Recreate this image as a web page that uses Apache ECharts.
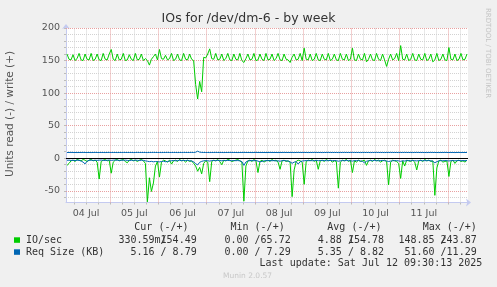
<!DOCTYPE html>
<html><head><meta charset="utf-8">
<script src="https://cdn.jsdelivr.net/npm/echarts@6/dist/echarts.min.js"></script>
<style>html,body{margin:0;padding:0;background:#f0f0f0;}#c{width:497px;height:287px;}</style>
</head><body><div id="c"></div>
<script>
// time axis: hours since 04 Jul 00:00
const startHour = 2;
const endHour = 202;
const dayLabels = ['04 Jul','05 Jul','06 Jul','07 Jul','08 Jul','09 Jul','10 Jul','11 Jul'];
const yTickLabels = [-50, 0, 50, 100, 150, 200];
const yMin = -68, yMax = 200;

const ioWrite = [
160,152,151,159,150,153,161,151,150,160,
152,151,161,150,152,160,151,150,161,152,
151,160,167,152,150,160,151,152,161,150,
151,159,152,150,161,151,152,160,150,153,
150,143,152,156,160,151,167,153,152,158,
151,153,161,150,152,160,151,150,161,152,
151,160,152,150,113,91,118,102,155,154,
160,168,153,152,161,151,152,160,150,153,
161,151,150,160,152,151,161,150,147,153,
160,151,152,161,150,151,160,152,150,161,
151,152,160,150,153,161,151,150,160,152,
151,147,155,160,151,152,161,150,169,152,
151,160,150,152,161,151,150,160,152,151,
161,150,152,160,151,150,161,152,151,160,
150,152,169,151,150,160,152,151,161,148,
152,160,151,150,161,152,150,160,151,141,
152,160,151,153,161,150,173,152,151,160,
150,152,161,151,150,160,152,151,161,150,
152,160,148,151,161,150,152,160,151,150,
170,152,151,160,150,152,161,151,152,160
];
const ioRead = [
-11,-8,-4,-3,-5,-2,-3,-4,-2,-3,
-5,-3,-2,-4,-3,-6,-32,-5,-3,-2,
-4,-3,-23,-6,-3,-2,-4,-3,-2,-5,
-7,-3,-2,-4,-3,-5,-3,-2,-4,-8,
-67,-30,-51,-38,-12,-5,-29,-6,-3,-4,
-6,-3,-9,-4,-3,-5,-2,-4,-3,-6,
-3,-5,-4,-8,-12,-20,-14,-24,-8,-4,
-6,-36,-5,-3,-4,-2,-5,-10,-3,-4,
-2,-3,-5,-4,-3,-2,-4,-6,-66,-12,
-4,-3,-5,-2,-4,-22,-5,-3,-6,-4,
-3,-5,-2,-4,-3,-6,-17,-4,-3,-5,
-4,-6,-59,-18,-5,-3,-4,-6,-40,-5,
-3,-4,-2,-5,-3,-17,-4,-3,-5,-2,
-4,-3,-6,-4,-5,-46,-6,-3,-4,-2,
-5,-3,-22,-4,-6,-3,-5,-4,-3,-11,
-4,-3,-5,-2,-4,-3,-6,-4,-3,-5,
-41,-6,-3,-4,-5,-8,-31,-4,-12,-3,
-4,-5,-3,-6,-18,-4,-3,-5,-2,-4,
-3,-5,-4,-57,-15,-4,-3,-6,-5,-4,
-28,-5,-3,-8,-4,-3,-5,-4,-6,-3
];
const reqWrite = [
8.8,8.8,8.9,8.8,8.8,8.7,8.8,8.8,8.9,8.8,
8.8,8.8,8.7,8.8,8.9,8.8,8.8,8.8,8.8,8.7,
8.8,8.9,8.8,8.8,8.8,8.7,8.8,8.8,8.9,8.8,
8.8,8.8,8.8,8.7,8.8,8.9,8.8,8.8,8.8,8.8,
8.7,8.8,8.8,8.9,8.8,8.8,8.8,8.7,8.8,8.8,
8.9,8.8,8.8,8.8,8.8,8.7,8.8,8.8,8.9,8.8,
8.8,8.8,8.9,8.8,9.2,10.8,9.3,8.9,8.8,8.8,
8.8,8.7,8.8,8.8,8.9,8.8,8.8,8.8,8.7,8.8,
8.8,8.9,8.8,8.8,8.8,8.7,8.8,8.8,8.9,8.8,
8.8,8.8,8.7,8.8,8.9,8.8,8.8,8.8,8.8,8.7,
8.8,8.9,8.8,8.8,8.8,8.7,8.8,8.8,8.9,8.8,
8.8,8.8,8.8,8.7,8.8,8.9,8.8,8.8,8.8,8.8,
8.7,8.8,8.8,8.9,8.8,8.8,8.8,8.7,8.8,8.8,
8.9,8.8,8.8,8.8,8.8,8.7,8.8,8.8,8.9,8.8,
8.8,8.8,8.9,8.8,8.8,8.8,8.7,8.8,8.8,8.8,
8.8,8.7,8.8,8.8,8.9,8.8,8.8,8.8,8.7,8.8,
8.8,8.9,8.8,8.8,8.8,8.7,8.8,8.8,8.9,8.8,
8.8,8.8,8.7,8.8,8.9,8.8,8.8,8.8,8.8,8.7,
8.8,8.9,8.8,8.8,8.8,8.7,8.8,8.8,8.9,8.8,
8.8,8.8,8.8,8.7,8.8,8.9,8.8,8.8,8.8,8.8
];
const reqRead = [
-3.2,-3.0,-3.4,-3.1,-3.6,-3.0,-3.3,-4.2,-6.0,-8.7,
-4.5,-3.2,-3.0,-3.4,-3.1,-3.3,-3.0,-2.8,-3.2,-3.5,
-3.1,-2.9,-3.3,-3.0,-2.8,-3.1,-3.4,-3.0,-3.2,-2.9,
-3.3,-3.6,-3.1,-3.4,-3.0,-3.2,-3.5,-3.1,-3.3,-4.0,
-4.6,-5.2,-4.8,-5.5,-5.0,-5.3,-5.6,-5.1,-4.6,-5.4,
-5.0,-4.4,-3.8,-3.5,-3.9,-3.6,-3.3,-3.7,-3.4,-3.6,
-3.3,-3.8,-4.2,-5.6,-8.5,-10.2,-6.3,-4.8,-4.0,-3.6,
-3.9,-4.4,-3.7,-3.5,-3.8,-3.4,-3.6,-3.9,-3.5,-3.7,
-3.4,-3.6,-3.9,-3.5,-3.8,-3.6,-4.0,-5.2,-11.0,-5.8,
-4.2,-3.8,-3.6,-3.9,-3.5,-4.4,-5.6,-4.8,-4.1,-3.7,
-3.8,-3.5,-3.9,-3.6,-4.2,-4.0,-4.6,-3.8,-3.6,-3.9,
-4.4,-5.5,-7.8,-6.0,-5.2,-9.0,-5.4,-4.3,-3.9,-3.6,
-3.8,-3.5,-3.9,-3.6,-3.4,-3.8,-3.5,-3.7,-3.4,-3.9,
-3.6,-3.4,-3.8,-3.5,-3.7,-4.6,-4.0,-3.6,-3.8,-3.5,
-3.7,-3.9,-4.4,-3.6,-3.8,-3.5,-4.2,-4.8,-7.0,-4.6,
-3.9,-3.6,-3.8,-3.5,-3.7,-3.9,-3.6,-3.4,-3.8,-4.2,
-5.0,-4.4,-3.9,-3.6,-3.8,-4.0,-4.8,-3.9,-4.3,-3.7,
-3.6,-3.9,-3.5,-3.8,-4.1,-3.7,-3.5,-3.9,-3.6,-3.8,
-3.5,-3.9,-4.6,-7.0,-5.2,-4.0,-3.7,-3.9,-3.5,-3.8,
-4.2,-3.8,-3.6,-4.0,-3.7,-3.5,-3.9,-3.6,-3.8,-3.5
];

const titleText = 'IOs for /dev/dm-6 - by week';
const yAxisTitle = 'Units read (-) / write (+)';
const sideText = 'RRDTOOL / TOBI OETIKER';
const colHeaders = ['Cur (-/+)', 'Min (-/+)', 'Avg (-/+)', 'Max (-/+)'];
const seriesNames = ['IO/sec', 'Req Size (KB)'];
const rowIO = ['330.59m154.49', '0.00 /65.72', '4.88 154.78', '148.85 243.87'];
const rowReq = ['5.16 / 8.79', '0.00 / 7.29', '5.35 / 8.82', '51.60 /11.29'];
const lastUpdate = 'Last update: Sat Jul 12 09:30:13 2025';
const muninVersion = 'Munin 2.0.57';

const GREEN = '#00cc00', BLUE = '#0066b3';
const toXY = arr => arr.map((v, i) => [startHour + i + 0.5, v]);

const minorY = [], majorY = [], tickY = [];
for (let v = -60; v <= 200; v += 10) { tickY.push(v); if (v === 0) continue; if (v % 50 === 0) majorY.push(v); else minorY.push(v); }
const minorX = [], majorX = [];
for (let h = 6; h < endHour; h += 6) { if (h % 24 === 0) majorX.push(h); else minorX.push(h); }
const noonX = dayLabels.map((_, k) => 12 + 24 * k);

const mono = 'DejaVu Sans Mono';
const sans = 'DejaVu Sans';
const CW = 6.02;
const colRight = [196.7, 290.7, 384, 476.7];
const colLeft = [134.3, 230.5, 327.3, 422.7];

const graphics = [
  {type:'text', left: 'center', top: 12, style:{text: titleText, font: '12.5px "DejaVu Sans"', fill:'#333'}},
  {type:'text', x: 10, y: 114, rotation: Math.PI/2, style:{text: yAxisTitle, font: '10.5px "DejaVu Sans"', fill:'#555', align:'center', verticalAlign:'middle'}},
  {type:'text', x: 487.5, y: 53, rotation: -Math.PI/2, style:{text: sideText, font: '7px "DejaVu Sans"', fill:'#c4c4c4', align:'center', verticalAlign:'middle'}},
  {type:'rect', shape:{x:14, y:237.3, width:6, height:5.5}, style:{fill: GREEN}},
  {type:'rect', shape:{x:14, y:249.3, width:6, height:5.5}, style:{fill: BLUE}},
  {type:'text', x: 26, y: 240, style:{text: seriesNames[0], font: '10px "'+mono+'"', fill:'#333', verticalAlign:'middle'}},
  {type:'text', x: 26, y: 252, style:{text: seriesNames[1], font: '10px "'+mono+'"', fill:'#333', verticalAlign:'middle'}},
  {type:'text', x: 482.3, y: 263, style:{text: lastUpdate, font: '10px "'+mono+'"', fill:'#333', align:'right', verticalAlign:'middle'}},
  {type:'text', x: 223, y: 276, style:{text: muninVersion, font: '7.5px "DejaVu Sans"', fill:'#c8c8c8', verticalAlign:'middle'}}
];
colHeaders.forEach((t, k) => graphics.push({type:'text', x: colLeft[k], y: 227.5, style:{text: t, font: '10px "'+mono+'"', fill:'#333', verticalAlign:'middle'}}));
rowIO.forEach((t, k) => graphics.push({type:'text', x: colRight[k], y: 240, style:{text: t, font: '10px "'+mono+'"', fill:'#333', align:'right', verticalAlign:'middle'}}));
rowReq.forEach((t, k) => graphics.push({type:'text', x: colRight[k], y: 252, style:{text: t, font: '10px "'+mono+'"', fill:'#333', align:'right', verticalAlign:'middle'}}));
// overlapping slashes (the separators print over a digit in the original)
[[0, 7], [2, 5], [3, 7]].forEach(([k, idx]) => {
  const len = rowIO[k].length;
  graphics.push({type:'text', x: colRight[k] - (len - idx) * CW, y: 240, style:{text: '/', font: '10px "'+mono+'"', fill:'#333', verticalAlign:'middle'}});
});

const dotted = (color) => ({color, width: 1, type: [1, 1], opacity: 1});
const gridSeries = {
  type: 'line', data: [], silent: true, z: 1,
  markLine: {
    silent: true, symbol: 'none', z: 1, animation: false,
    label: {show: false}, emphasis: {disabled: true},
    data: [
      ...minorY.map(v => ({yAxis: v, lineStyle: dotted('#d2d2d2')})),
      ...minorX.map(h => ({xAxis: h, lineStyle: dotted('#d2d2d2')})),
      ...majorY.map(v => ({yAxis: v, lineStyle: dotted('#e8a0a0')})),
      ...majorX.map(h => ({xAxis: h, lineStyle: dotted('#e8a0a0')}))
    ]
  }
};
const zeroSeries = {
  type: 'line', data: [], silent: true, z: 10,
  markLine: {silent: true, symbol: 'none', z: 10, animation: false, label:{show:false}, emphasis:{disabled:true},
    data: [{yAxis: 0, lineStyle: {color:'#000', width: 1, type:'solid'}}]}
};
const lineS = (data, color) => ({type:'line', data: toXY(data), showSymbol: false, symbol:'none', z: 5,
  lineStyle: {color, width: 1}, itemStyle:{color}, emphasis:{disabled:true}, silent: true, animation: false});

const chart = echarts.init(document.getElementById('c'), null, {renderer: 'canvas'});
chart.setOption({
  animation: false,
  backgroundColor: '#f0f0f0',
  grid: {left: 66, right: 29, top: 28, bottom: 84.5, show: true, backgroundColor: '#ffffff', borderWidth: 0},
  xAxis: {
    type: 'value', min: startHour, max: endHour,
    axisLine: {show: true, onZero: false, lineStyle: {color: '#c4caf0', width: 1}, symbol: ['none', 'arrow'], symbolSize: [6, 5], symbolOffset: [0, 3]},
    axisTick: {show: true, customValues: minorX.concat(majorX), length: 2, lineStyle: {color: '#bbbbbb'}},
    axisLabel: {customValues: noonX, formatter: v => dayLabels[Math.round((v - 12) / 24)], fontFamily: sans, fontSize: 9.5, color: '#555', margin: 6},
    splitLine: {show: false}
  },
  yAxis: {
    type: 'value', min: yMin, max: yMax,
    axisLine: {show: true, onZero: false, lineStyle: {color: '#c4caf0', width: 1}, symbol: ['none', 'arrow'], symbolSize: [6, 5], symbolOffset: [0, 4]},
    axisTick: {show: true, customValues: tickY, length: 2, lineStyle: {color: '#bbbbbb'}},
    axisLabel: {customValues: yTickLabels, fontFamily: sans, fontSize: 9.5, color: '#555', margin: 6},
    splitLine: {show: false}
  },
  graphic: graphics,
  series: [
    gridSeries,
    lineS(ioRead, GREEN),
    lineS(ioWrite, GREEN),
    lineS(reqRead, BLUE),
    lineS(reqWrite, BLUE),
    zeroSeries
  ]
});
</script></body></html>
